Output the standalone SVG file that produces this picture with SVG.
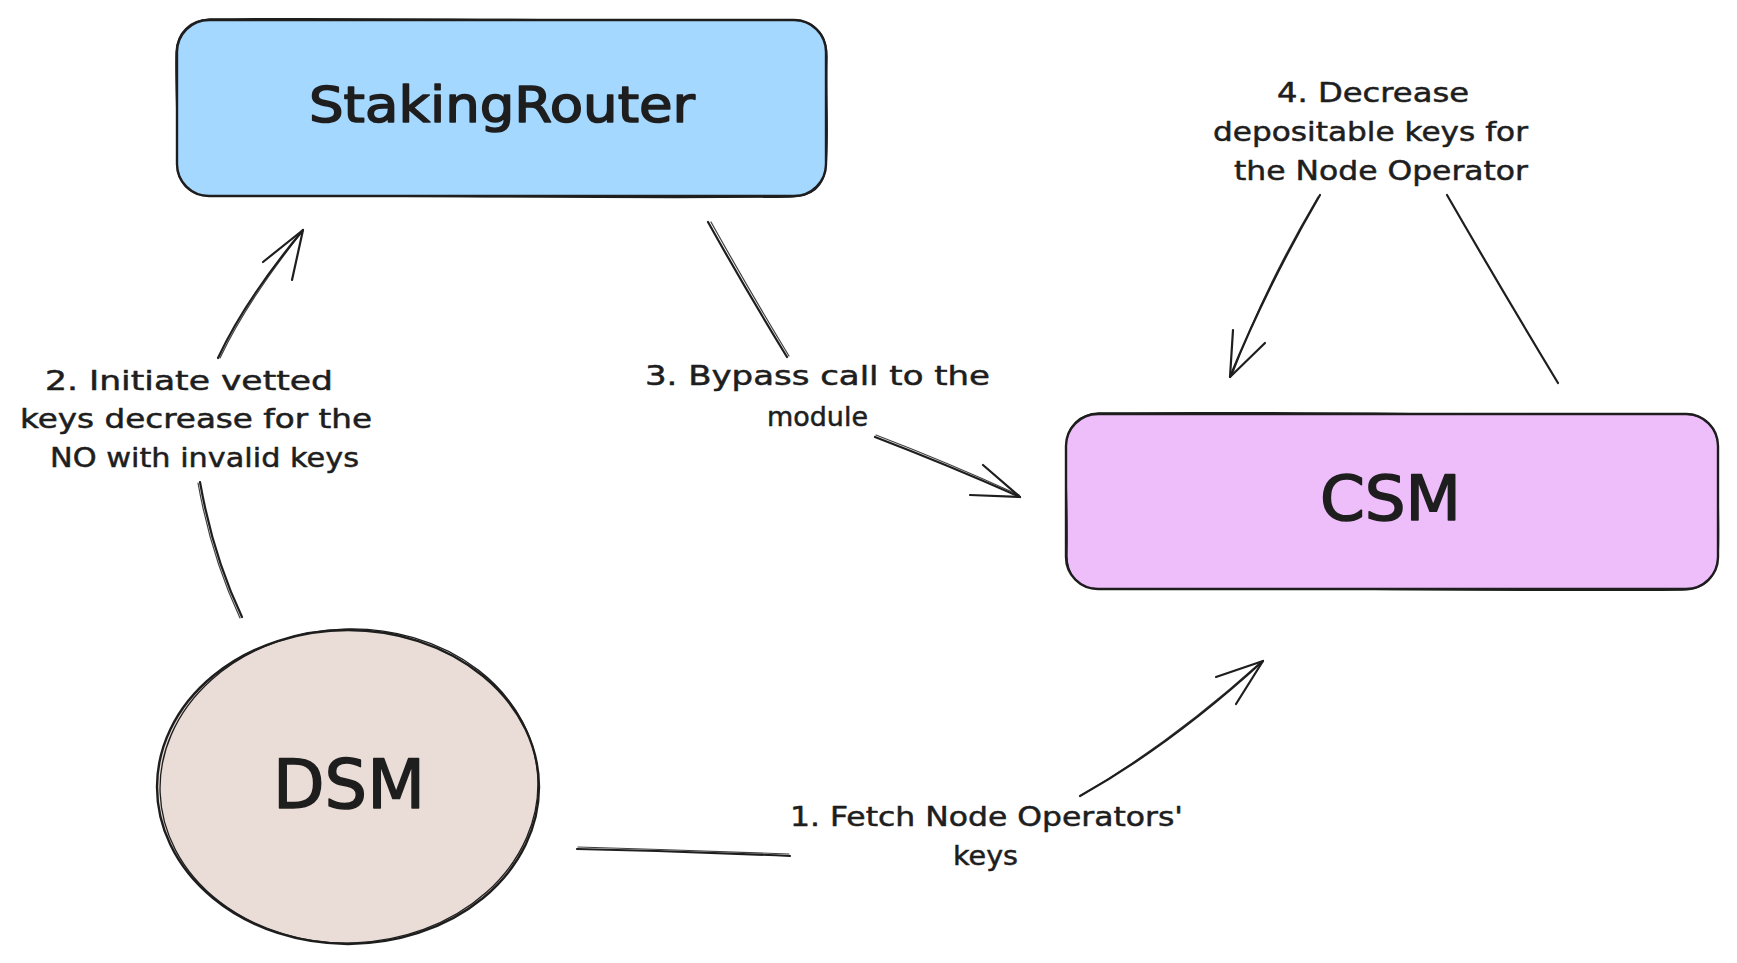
<svg xmlns="http://www.w3.org/2000/svg" width="1737" height="963" viewBox="0 0 1737 963">
<defs>
<style>
.bg{fill:#ffffff}
.outline{stroke:#1e1e1e;stroke-width:2.4;stroke-linecap:round;stroke-linejoin:round}
.outline2{fill:none;stroke:#1e1e1e;stroke-width:1.3;stroke-linecap:round;stroke-linejoin:round}
.title{font-family:"DejaVu Sans","Noto Sans",sans-serif;fill:#1e1e1e;stroke:#1e1e1e;stroke-width:1.6;stroke-linejoin:round}
.label{font-family:"DejaVu Sans","Noto Sans",sans-serif;font-size:26px;fill:#1e1e1e;stroke:#1e1e1e;stroke-width:0.5;stroke-linejoin:round}
.ln{fill:none;stroke:#1e1e1e;stroke-width:2.2;stroke-linecap:round;stroke-linejoin:round}
.ln2{fill:none;stroke:#1e1e1e;stroke-width:1.2;stroke-linecap:round;stroke-linejoin:round;opacity:0.85}
</style>
</defs>
<rect class="bg" x="0" y="0" width="1737" height="963"/>

<g id="node-stakingrouter">
<rect class="outline" x="177" y="20" width="649" height="176" rx="32" fill="#a5d8ff"/>
<path class="outline2" d="M210,19 C400,17 620,22 794,20 C818,21 828,38 827,60 C826,100 829,140 826,166 C824,188 810,197 790,197 C600,199 380,195 208,196 C188,195 176,182 177,160 C178,120 175,80 176,52 C177,32 190,20 210,19"/>
<text class="title" x="309" y="122" font-size="50" textLength="386" lengthAdjust="spacingAndGlyphs">StakingRouter</text>
</g>

<g id="node-csm">
<rect class="outline" x="1066" y="414" width="652" height="175" rx="32" fill="#eebefa"/>
<path class="outline2" d="M1099,413 C1300,411 1520,416 1686,414 C1708,415 1719,430 1718,452 C1717,490 1720,530 1718,558 C1716,580 1702,590 1682,590 C1480,592 1270,587 1098,589 C1078,588 1066,575 1067,553 C1068,510 1065,470 1066,446 C1067,425 1080,414 1099,413"/>
<text class="title" x="1320" y="520" font-size="62" textLength="141" lengthAdjust="spacingAndGlyphs">CSM</text>
</g>

<g id="node-dsm">
<ellipse class="outline" cx="348" cy="787" rx="191" ry="157" fill="#eaddd7"/>
<ellipse class="outline2" cx="349" cy="786" rx="189" ry="157" transform="rotate(-2 349 786)"/>
<text class="title" x="273" y="808" font-size="68" textLength="152" lengthAdjust="spacingAndGlyphs">DSM</text>
</g>

<g id="connectors">
<g id="arrow-1-fetch">
<path class="ln" d="M577,849 Q683,851 790,856"/>
<path class="ln2" d="M578,847 Q684,850 789,854"/>
<path class="ln" d="M1080,796 Q1171,745 1263,661"/>
<path class="ln2" d="M1082,795 Q1172,742 1261,662"/>
<path class="ln" d="M1216,677 L1263,661 L1236,704"/>
</g>
<g id="arrow-2-initiate">
<path class="ln" d="M242,617 Q213,556 200,482"/>
<path class="ln2" d="M240,618 Q211,556 198,483"/>
<path class="ln" d="M218,358 Q245,300 303,230"/>
<path class="ln2" d="M220,358 Q247,301 302,232"/>
<path class="ln" d="M263,262 L303,230 L292,280"/>
</g>
<g id="arrow-3-bypass">
<path class="ln" d="M708,222 Q746,290 787,357"/>
<path class="ln2" d="M711,222 Q749,290 789,356"/>
<path class="ln" d="M875,437 Q948,465 1020,497"/>
<path class="ln2" d="M876,435 Q949,463 1019,495"/>
<path class="ln" d="M983,465 L1020,497 L970,495"/>
</g>
<g id="arrow-4-decrease">
<path class="ln" d="M1558,383 Q1500,287 1447,195"/>
<path class="ln" d="M1320,195 Q1267,286 1230,377"/>
<path class="ln2" d="M1318,197 Q1264,288 1232,375"/>
<path class="ln" d="M1233,330 L1230,377 L1265,343"/>
</g>
</g>

<g id="labels">
<text class="label" x="45" y="390" textLength="288" lengthAdjust="spacingAndGlyphs">2. Initiate vetted</text>
<text class="label" x="20" y="428" textLength="352" lengthAdjust="spacingAndGlyphs">keys decrease for the</text>
<text class="label" x="50" y="467" textLength="309" lengthAdjust="spacingAndGlyphs">NO with invalid keys</text>

<text class="label" x="645" y="385" textLength="345" lengthAdjust="spacingAndGlyphs">3. Bypass call to the</text>
<text class="label" x="767" y="426" textLength="101" lengthAdjust="spacingAndGlyphs">module</text>

<text class="label" x="790" y="826" textLength="393" lengthAdjust="spacingAndGlyphs">1. Fetch Node Operators'</text>
<text class="label" x="953" y="865" textLength="65" lengthAdjust="spacingAndGlyphs">keys</text>

<text class="label" x="1277" y="102" textLength="192" lengthAdjust="spacingAndGlyphs">4. Decrease</text>
<text class="label" x="1213" y="141" textLength="315" lengthAdjust="spacingAndGlyphs">depositable keys for</text>
<text class="label" x="1234" y="180" textLength="294" lengthAdjust="spacingAndGlyphs">the Node Operator</text>
</g>
</svg>
